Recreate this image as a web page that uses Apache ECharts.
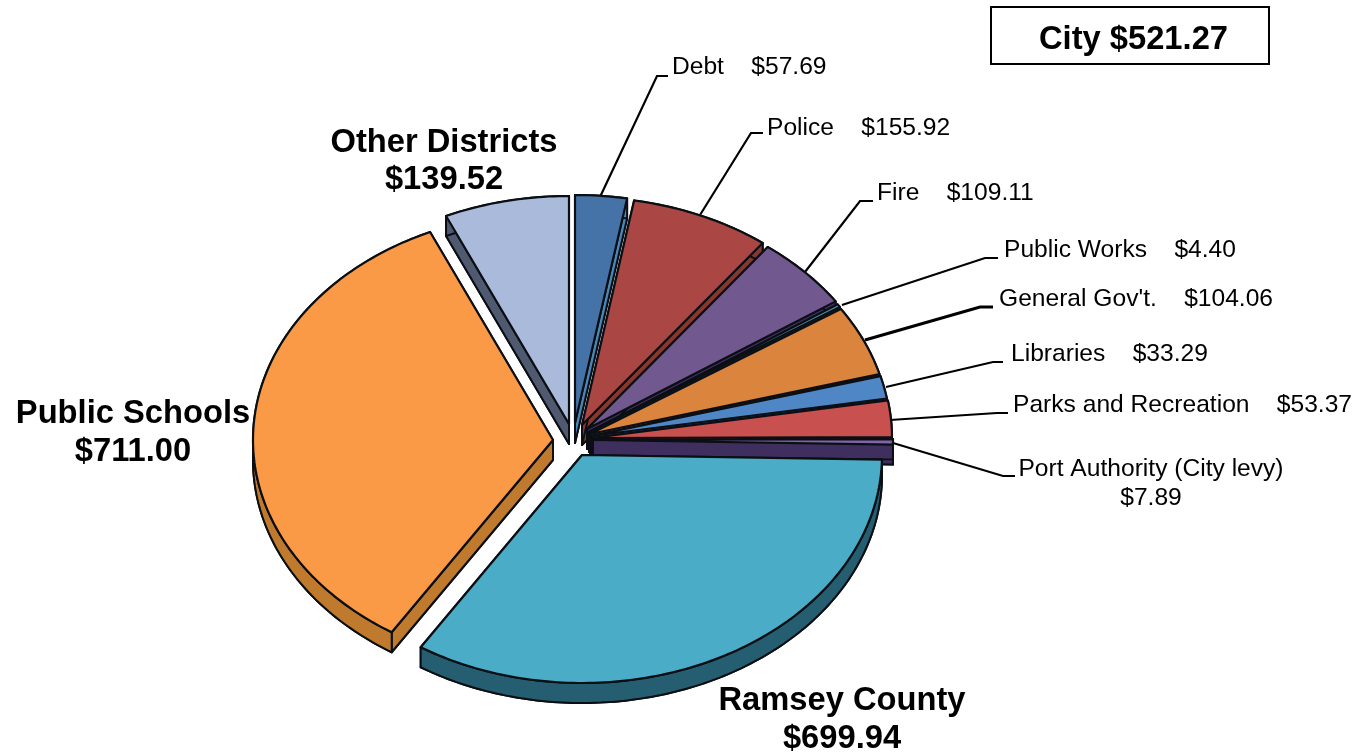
<!DOCTYPE html>
<html>
<head>
<meta charset="utf-8">
<style>html,body{margin:0;padding:0;background:#fff}#c{width:1363px;height:753px}</style>
<script src="https://cdn.jsdelivr.net/npm/echarts@6/dist/echarts.min.js"></script>
</head>
<body>
<div id="c"></div>
<script>
// ---- data (clockwise from 12 o'clock) ----
const names = ['Debt','Police','Fire','Public Works',"General Gov't.",'Libraries','Parks and Recreation','Port Authority (City levy)','Ramsey County','Public Schools','Other Districts'];
const values = [57.69,155.92,109.11,4.40,104.06,33.29,53.37,7.89,699.94,711.00,139.52];
const cityLabel = 'City';
const cityTotal = 521.27;

// ---- styles ----
const faceColors = ['#4572A7','#AA4643','#71588F','#4198AF','#DB843D','#4F86C6','#C8504F','#8066A8','#4BACC8','#FB9A46','#AABADB'];
const wallColors = ['#4A86B8','#86382F','#3F2F5F','#1F5F70','#8C5520','#2F5A90','#8A2F2E','#3F2F5F','#255E70','#C07A2E','#4F5A70'];

// ---- layout ----
const RX = 300, RY = 228, DEPTH = 20;
const apex = [[575,423],[582,425],[587,429],[589,432],[590,434],[591,436],[592,438],[593,440],[582,455],[553,440],[569,424]];
const leaders = [
  [[600,197],[657,76],[668,76]],
  [[700,215],[751,133],[763,133]],
  [[805,272],[860,201],[873,201]],
  [[842,305],[985,258],[998,258]],
  [[865,340],[980,307],[993,307]],
  [[886,387],[993,362],[1003,362]],
  [[890,420],[997,413],[1008,413]],
  [[893,443],[1003,476],[1015,476]]
];
const smallPos = [[672,67],[767,128],[877,193],[1004,250],[999,299],[1011,354],[1013,405]];
const portPos = [1151,469,498];
const bigPos = {8:[842,701,739],9:[133,414,452],10:[444,143,180]};

const total = values.reduce((a,b)=>a+b,0);
const money = v => '$' + v.toFixed(2);
function sweep(i){
  let s = -90;
  for(let k=0;k<i;k++) s += values[k]/total*360;
  return [s, s + values[i]/total*360];
}
function arcPts(cx,cy,a0,a1,dy){
  const n = Math.max(2,Math.ceil(Math.abs(a1-a0)));
  const out=[];
  for(let j=0;j<=n;j++){
    const a=(a0+(a1-a0)*j/n)*Math.PI/180;
    out.push([cx+RX*Math.cos(a),cy+RY*Math.sin(a)+dy]);
  }
  return out;
}
const LINE='#0b0f14';
function renderItem(params,api){
  const i=params.dataIndex, [a0,a1]=sweep(i), [cx,cy]=apex[i];
  const top=arcPts(cx,cy,a0,a1,0), bot=arcPts(cx,cy,a0,a1,DEPTH);
  const wallStyle={fill:wallColors[i],stroke:LINE,lineWidth:2,lineJoin:'round'};
  const poly=(pts,style)=>({type:'polygon',shape:{points:pts},style});
  const children=[
    poly([[cx,cy+DEPTH],...bot],wallStyle),
    poly([[cx,cy],top[top.length-1],bot[bot.length-1],[cx,cy+DEPTH]],wallStyle),
    poly([[cx,cy],top[0],bot[0],[cx,cy+DEPTH]],wallStyle),
    poly([...top,...bot.slice().reverse()],wallStyle),
    poly([[cx,cy],...top],{fill:faceColors[i],stroke:LINE,lineWidth:2.2,lineJoin:'round'})
  ];
  return {type:'group',children};
}
function labelItem(params,api){
  const i=params.dataIndex, children=[];
  const txt=(t,x,y,big,align)=>({type:'text',style:{text:t,x,y,fill:'#000',align:align||'left',verticalAlign:'middle',
    font:(big?'bold 32.7px':'24.6px')+' "Liberation Sans",Arial,sans-serif'}});
  if(leaders[i]) children.push({type:'polyline',shape:{points:leaders[i]},style:{fill:null,stroke:'#000',lineWidth:i===4?3:2.2}});
  const v=api.value(0);
  if(i<7) children.push(txt(names[i]+'    '+money(v),smallPos[i][0],smallPos[i][1]));
  else if(i===7){
    children.push(txt(names[i],portPos[0],portPos[1],false,'center'));
    children.push(txt(money(v),portPos[0],portPos[2],false,'center'));
  } else {
    const p=bigPos[i];
    children.push(txt(names[i],p[0],p[1],true,'center'));
    children.push(txt(money(v),p[0],p[2],true,'center'));
  }
  return {type:'group',children};
}
const seriesData = names.map((n,i)=>({name:n,value:[values[i]]}));
const chart = echarts.init(document.getElementById('c'),null,{renderer:'canvas'});
chart.setOption({
  animation:false,
  backgroundColor:'#fff',
  series:[
    {type:'custom',name:'Slices',coordinateSystem:'none',renderItem,data:seriesData,silent:true,z:2},
    {type:'custom',name:'Labels',coordinateSystem:'none',renderItem:labelItem,data:seriesData,silent:true,z:1}
  ],
  graphic:[
    {type:'rect',left:990,top:6,shape:{width:278,height:57},style:{fill:'#fff',stroke:'#000',lineWidth:2},z:5},
    {type:'text',left:1039,top:23,style:{text:cityLabel+' '+money(cityTotal),fill:'#000',font:'bold 32.7px "Liberation Sans",Arial,sans-serif'},z:6}
  ]
});
</script>
</body>
</html>
